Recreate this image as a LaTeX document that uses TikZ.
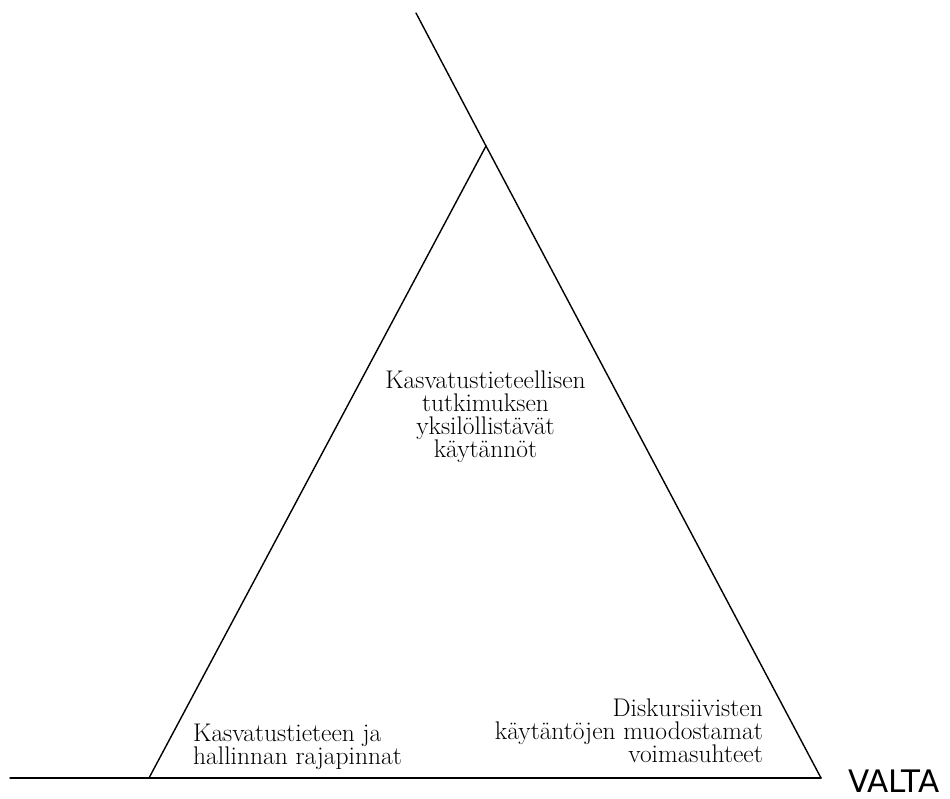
\documentclass[tikz,border=0pt]{standalone}
\usepackage{fontspec}
\newfontfamily\valtafont{DejaVu Sans}
\begin{document}
\begin{tikzpicture}[x=1pt,y=1pt,
  ln/.style={line width=1.4pt, line cap=round, line join=miter},
  lbl/.style={inner sep=0pt, font=\fontsize{25.5}{23}\selectfont}]
\useasboundingbox (0,0) rectangle (950,798);
\coordinate (T) at (416,785);
\coordinate (A) at (486,652);
\coordinate (BL) at (149,20);
\coordinate (BR) at (821,20);
\coordinate (L) at (10,20);
\draw[ln] (T) -- (A) -- (BR);
\draw[ln] (A) -- (BL);
\draw[ln] (L) -- (BR);
\node[lbl, anchor=north, align=center] (c) at (485.5,427.7)
  {Kasvatustieteellisen\\tutkimuksen\\yksilöllistävät\\käytännöt};
\node[lbl, anchor=north west, align=left] (bl) at (193,73.7)
  {Kasvatustieteen ja\\hallinnan rajapinnat};
\node[lbl, anchor=north east, align=right] (br) at (763,99.7)
  {Diskursiivisten\\käytäntöjen muodostamat\\voimasuhteet};
\node[inner sep=0pt, anchor=base west, font=\valtafont\fontsize{31}{31}\selectfont] (v) at (848,6) {VALTA};
\end{tikzpicture}
\end{document}
